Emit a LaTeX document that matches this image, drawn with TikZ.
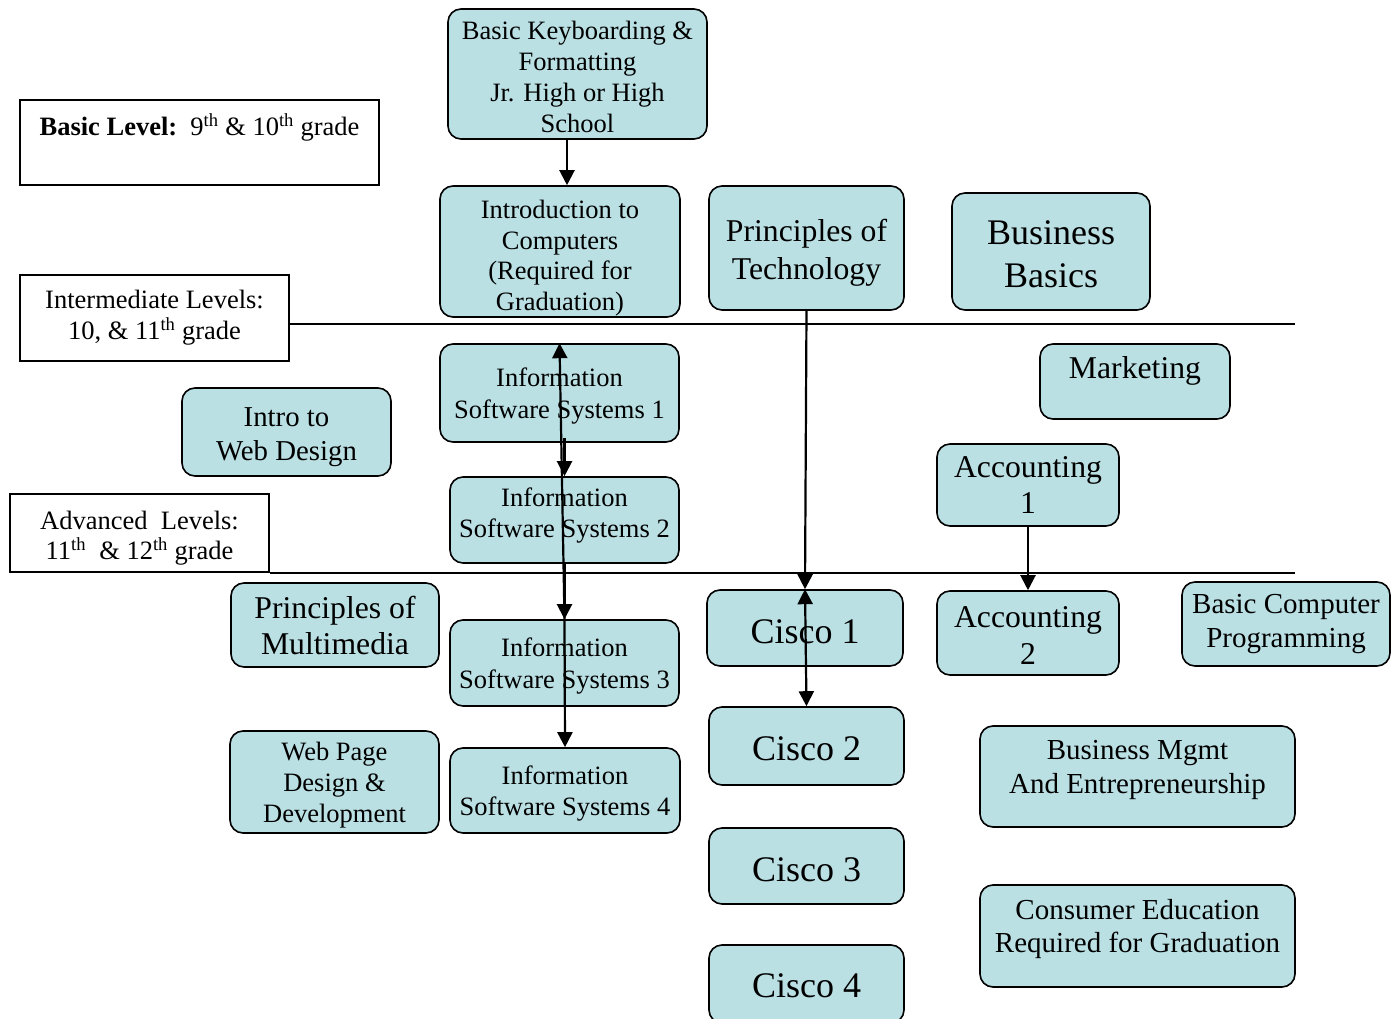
\documentclass[tikz,border=0pt]{standalone}
\usepackage{fontspec}
\setmainfont{Liberation Serif}
\usetikzlibrary{arrows.meta,calc}
\definecolor{boxfill}{HTML}{BAE0E4}
\newcommand\fsz[2]{\fontsize{#1}{#2}\selectfont}
\tikzset{
  course/.style={draw=black, line width=1.6pt, fill=boxfill, rounded corners=13pt,
    align=center, inner sep=0pt},
  level/.style={draw=black, line width=1.4pt, fill=white, align=center, inner sep=0pt},
  conn/.style={line width=2.2pt, -{Triangle[length=15pt,width=15pt]}},
  dconn/.style={line width=2.2pt, {Triangle[length=15pt,width=15pt]}-{Triangle[length=15pt,width=15pt]}},
  divider/.style={line width=1.8pt}
}
\begin{document}
\begin{tikzpicture}[x=1pt,y=-1pt]
\useasboundingbox (0,0) rectangle (1398,1019);

% level boxes
\node[level, minimum width=359pt, minimum height=85pt, text depth=35pt, font=\fsz{26.5}{31}] (basic) at (199.5,142.5)
  {\textbf{Basic Level:}\ \ 9\textsuperscript{th} \& 10\textsuperscript{th} grade};
\node[level, minimum width=269pt, minimum height=86pt, font=\fsz{26.5}{31}] (inter) at (154.5,318)
  {Intermediate Levels:\\10, \& 11\textsuperscript{th} grade};
\node[level, minimum width=259pt, minimum height=78pt, text height=53pt, text depth=0pt, font=\fsz{26.5}{30}] (adv) at (139.5,533)
  {Advanced\ \ Levels:\\11\textsuperscript{th}\ \ \& 12\textsuperscript{th} grade};

% dividers
\coordinate (d1) at (1295,324);
\coordinate (d2) at (1295,573);
\draw[divider] (inter.east |- d1) -- (d1);
\draw[divider] (adv.east |- d2) -- (d2);

% course boxes
\node[course, minimum width=259pt, minimum height=130pt, text height=118pt, text depth=0pt, font=\fsz{26.5}{31}] (kb) at (577.5,74)
  {Basic Keyboarding \&\\Formatting\\Jr. High or High\\School};
\node[course, minimum width=240pt, minimum height=131pt, text height=117.5pt, text depth=0pt, font=\fsz{26.5}{30.5}] (intro) at (560,251.5)
  {Introduction to\\Computers\\(Required for\\Graduation)};
\node[course, minimum width=195pt, minimum height=124pt, text height=63.5pt, text depth=0pt, font=\fsz{31.7}{38}] (pt) at (806.5,248)
  {Principles of\\Technology};
\node[course, minimum width=198pt, minimum height=117pt, text height=71.5pt, text depth=0pt, font=\fsz{36}{43}] (bb) at (1051,251.5)
  {Business\\Basics};

\node[course, minimum width=239pt, minimum height=98pt, text depth=0pt, font=\fsz{26.5}{32}] (is1) at (559.5,393)
  {Information\\Software Systems 1};
\node[course, minimum width=229pt, minimum height=86pt, text depth=14pt, font=\fsz{26.5}{31}] (is2) at (564.5,520)
  {Information\\Software Systems 2};
\node[course, minimum width=229pt, minimum height=86pt, text depth=0pt, font=\fsz{26.5}{32}] (is3) at (564.5,663)
  {Information\\Software Systems 3};
\node[course, minimum width=230pt, minimum height=85pt, text depth=0pt, font=\fsz{26.5}{31}] (is4) at (565,790.5)
  {Information\\Software Systems 4};

\node[course, minimum width=190pt, minimum height=75pt, text depth=27pt, font=\fsz{31.7}{37}] (mkt) at (1135,381.5)
  {Marketing};
\node[course, minimum width=209pt, minimum height=88pt, text height=57pt, text depth=0pt, font=\fsz{28.8}{34}] (web) at (286.5,432)
  {Intro to\\Web Design};
\node[course, minimum width=182pt, minimum height=82pt, font=\fsz{31.7}{36}] (acc1) at (1028,485)
  {Accounting\\1};
\node[course, minimum width=208pt, minimum height=84pt, font=\fsz{31.7}{36}] (pm) at (335,625)
  {Principles of\\Multimedia};
\node[course, minimum width=196pt, minimum height=76pt, text height=30.5pt, text depth=0pt, font=\fsz{36}{43}] (c1) at (805,628)
  {Cisco 1};
\node[course, minimum width=182pt, minimum height=84pt, text height=62.5pt, text depth=0pt, font=\fsz{31.7}{37}] (acc2) at (1028,633)
  {Accounting\\2};
\node[course, minimum width=208pt, minimum height=84pt, font=\fsz{29}{34}] (bcp) at (1286,624)
  {Basic Computer\\Programming};
\node[course, minimum width=209pt, minimum height=102pt, text depth=0pt, font=\fsz{26.5}{31}] (wpd) at (334.5,782)
  {Web Page\\Design \&\\Development};
\node[course, minimum width=195pt, minimum height=78pt, text height=28.5pt, text depth=0pt, font=\fsz{36}{43}] (c2) at (806.5,746)
  {Cisco 2};
\node[course, minimum width=315pt, minimum height=101pt, text depth=20pt, font=\fsz{29}{34}] (bm) at (1137.5,776.5)
  {Business Mgmt\\And Entrepreneurship};
\node[course, minimum width=195pt, minimum height=76pt, text height=30.5pt, text depth=0pt, font=\fsz{36}{43}] (c3) at (806.5,866)
  {Cisco 3};
\node[course, minimum width=315pt, minimum height=102pt, text depth=20pt, font=\fsz{29}{33}] (ce) at (1137.5,936)
  {Consumer Education\\Required for Graduation};
\node[course, minimum width=195pt, minimum height=78pt, text height=26.5pt, text depth=0pt, font=\fsz{36}{43}] (c4) at (806.5,984)
  {Cisco 4};

% connectors
\draw[conn] ([xshift=-10.5pt]kb.south) -- ([xshift=-10.5pt]kb.south |- intro.north);
\draw[conn] (pt.south) -- (c1.north);
\draw[dconn] (c1.north) -- (c2.north);
\draw[conn] (acc1.south) -- (acc2.north);
\draw[conn] ([yshift=5pt]is1.south -| is2.north) -- (is2.north);
\draw[conn] (is2.south) -- (is3.north);
\draw[conn] (is3.north) -- (is4.north);
\draw[conn] (is3.north) -- (is1.north);
\end{tikzpicture}
\end{document}
